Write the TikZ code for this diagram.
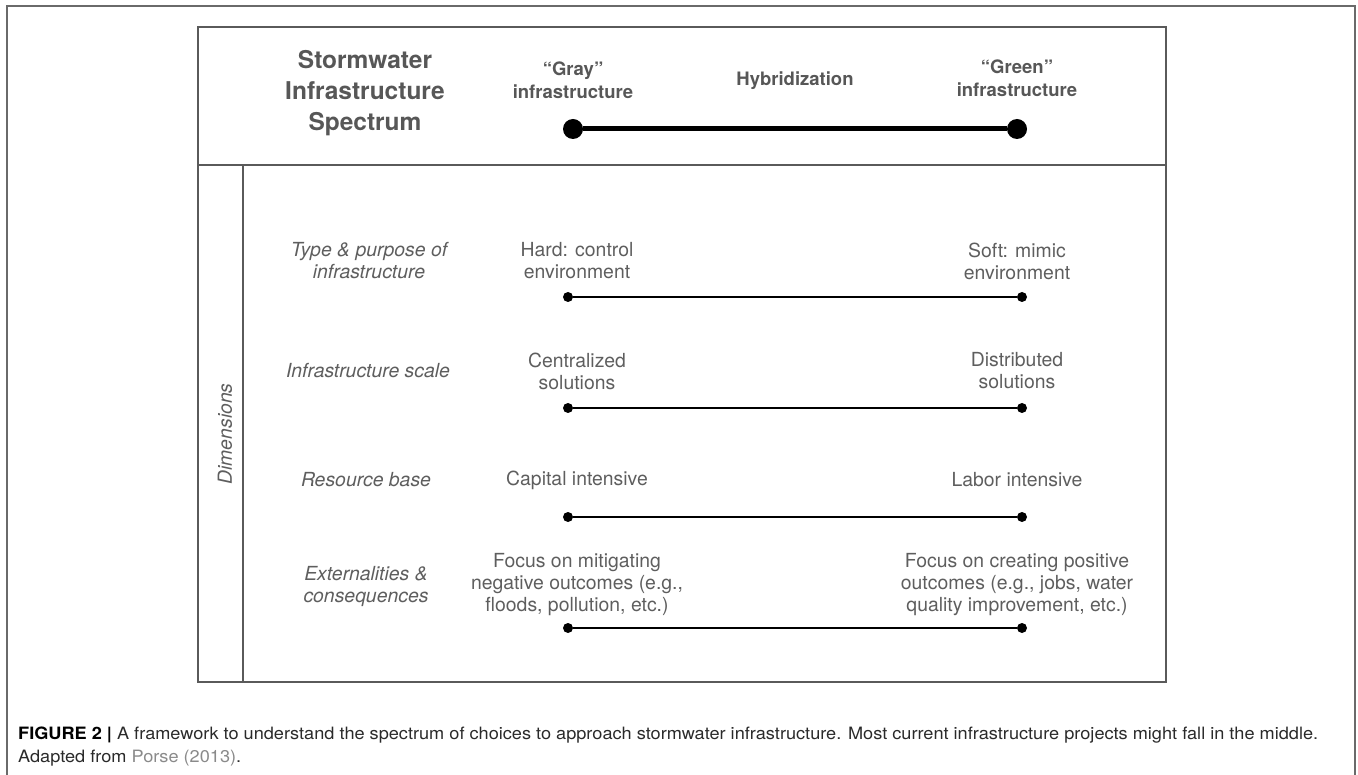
\documentclass[tikz,border=0pt]{standalone}
\usepackage{fontspec}
\setmainfont{TeX Gyre Heros}
\newfontfamily\capfont{TeX Gyre Heros}
\usepackage{graphicx}
\definecolor{framegray}{HTML}{6A6A6A}
\definecolor{boxgray}{HTML}{5A5A5A}
\definecolor{titlegray}{HTML}{575757}
\definecolor{textgray}{HTML}{5E5E5E}
\definecolor{capcolor}{HTML}{2A2A2A}
\definecolor{linkgray}{HTML}{8A8A8A}
\newsavebox\capboxA
\begin{document}
\sbox\capboxA{\capfont\fontsize{17}{23}\selectfont\color{capcolor}\textbf{\color{black}FIGURE 2 |} A framework to understand the spectrum of choices to approach stormwater infrastructure. Most current infrastructure projects might fall in the middle.}%
\pgfmathsetmacro\capf{1300/\the\wd\capboxA}%
\begin{tikzpicture}[x=1pt,y=-1pt,
  framestyle/.style={draw=framegray, line width=1.3pt},
  boxline/.style={draw=boxgray, line width=1.4pt},
  titletext/.style={font=\fontsize{24.5}{31}\selectfont\bfseries, text=titlegray, align=center, inner sep=0},
  endlabel/.style={font=\fontsize{18.5}{23}\selectfont\bfseries, text=titlegray, align=center, inner sep=0},
  dimlabel/.style={font=\fontsize{19.4}{22}\selectfont\itshape, text=textgray, align=center, inner sep=0},
  poletext/.style={font=\fontsize{19.4}{22}\selectfont, text=textgray, align=center, inner sep=0},
  bigdot/.style={circle, fill=black, minimum size=20pt, inner sep=0},
  smalldot/.style={circle, fill=black, minimum size=10pt, inner sep=0},
  spectrumline/.style={draw=black, line width=5pt},
  dimline/.style={draw=black, line width=2.4pt}
]
\useasboundingbox (0,0) rectangle (1358,775);

% outer frame
\coordinate (fbl) at (7,775);
\coordinate (ftl) at (7,6);
\coordinate (ftr) at (1355,6);
\coordinate (fbr) at (1355,775);
\draw[framestyle] (fbl) -- (ftl) -- (ftr) -- (fbr);

% inner box
\coordinate (btl) at (198,27);
\coordinate (bbr) at (1166,682);
\draw[boxline] (btl) rectangle (bbr);
\coordinate (dl) at (198,165);
\coordinate (dr) at (1166,165);
\draw[boxline] (dl) -- (dr);
\coordinate (vt) at (243,165);
\coordinate (vb) at (243,682);
\draw[boxline] (vt) -- (vb);

% header
\node[titletext] (title) at (365,93) {Stormwater\\Infrastructure\\Spectrum};
\node[endlabel] (gray) at (573,80.5) {``Gray''\\infrastructure};
\node[endlabel] (hyb) at (795,81) {Hybridization};
\node[endlabel] (green) at (1017,78.5) {``Green''\\infrastructure};
\node[bigdot] (gdot) at (573,129) {};
\node[bigdot] (rdot) at (1017,129) {};
\draw[spectrumline] (gdot) -- (rdot);

% dimensions
\node[dimlabel, rotate=90] (dims) at (225,434) {Dimensions};

\node[dimlabel] (l1) at (369,261) {Type \& purpose of\\infrastructure};
\node[dimlabel] (l2) at (368,371) {Infrastructure scale};
\node[dimlabel] (l3) at (366,480) {Resource base};
\node[dimlabel] (l4) at (366,586) {Externalities \&\\consequences};

\node[poletext] (a1) at (577,261) {Hard: control\\environment};
\node[poletext] (b1) at (1017,261) {Soft: mimic\\environment};
\node[poletext] (a2) at (577,371) {Centralized\\solutions};
\node[poletext] (b2) at (1017,371) {Distributed\\solutions};
\node[poletext] (a3) at (577,480) {Capital intensive};
\node[poletext] (b3) at (1017,480) {Labor intensive};
\node[poletext] (a4) at (577,585) {Focus on mitigating\\negative outcomes (e.g.,\\floods, pollution, etc.)};
\node[poletext] (b4) at (1017,585) {Focus on creating positive\\outcomes (e.g., jobs, water\\quality improvement, etc.)};

\foreach \i/\y in {1/297,2/408,3/517,4/628}{
  \node[smalldot] (p\i) at (568,\y) {};
  \node[smalldot] (q\i) at (1022,\y) {};
  \draw[dimline] (p\i) -- (q\i);
}

% caption
\node[anchor=base west, inner sep=0] (cap1) at (18,739) {\scalebox{\capf}[1]{\usebox\capboxA}};
\node[anchor=base west, inner sep=0] (cap2) at (18,762) {\scalebox{\capf}[1]{\capfont\fontsize{17}{23}\selectfont\color{capcolor}Adapted from \textcolor{linkgray}{Porse (2013)}.}};
\end{tikzpicture}
\end{document}
